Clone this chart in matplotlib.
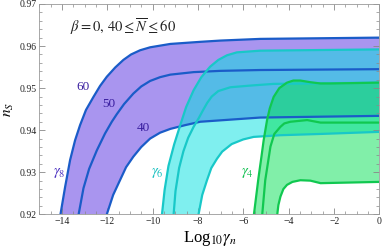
import numpy as np
import matplotlib
matplotlib.use("Agg")
import matplotlib.pyplot as plt

plt.rcParams['mathtext.fontset'] = 'stix'
plt.rcParams['font.family'] = ['Liberation Serif', 'DejaVu Serif']

# gamma_8 curves (N = 60, 50, 40)
g8_n60_x = [-14.09, -13.87, -13.65, -13.43, -13.21, -12.95, -12.62, -12.33, -12.03, -11.66, -11.30,
            -10.96, -10.56, -10.12, -9.23, -7.91, -7.02, -5.26, 0.0]
g8_n60_y = [0.9195, 0.9265, 0.9329, 0.9376, 0.9412, 0.9448, 0.9479, 0.9505, 0.9527, 0.9549, 0.9567,
            0.9580, 0.9590, 0.9597, 0.9605, 0.9610, 0.9613, 0.9617, 0.9620]
g8_n50_x = [-13.29, -13.06, -12.81, -12.47, -12.11, -11.81, -11.59, -11.27, -10.86, -10.51, -10.12,
            -9.68, -9.23, -8.20, -7.02, -5.26, 0.0]
g8_n50_y = [0.9195, 0.9262, 0.9308, 0.9352, 0.9392, 0.9420, 0.9438, 0.9462, 0.9487, 0.9504, 0.9517,
            0.9526, 0.9532, 0.9538, 0.9541, 0.9543, 0.9545]
g8_n40_x = [-12.06, -11.75, -11.44, -11.18, -10.86, -10.51, -10.12, -9.68, -9.23, -8.57, -7.91, -5.26, 0.0]
g8_n40_y = [0.9195, 0.9246, 0.9282, 0.9312, 0.9337, 0.9360, 0.9380, 0.9394, 0.9403, 0.9412, 0.9420, 0.9430, 0.9434]

# gamma_6 curves
g6_n60_x = [-9.60, -9.48, -9.31, -9.06, -8.79, -8.53, -8.20, -7.86, -7.47, -7.11, -6.73, -6.29, -5.26, 0.0]
g6_n60_y = [0.9198, 0.9258, 0.9315, 0.9366, 0.9412, 0.9455, 0.9495, 0.9526, 0.9551, 0.9567, 0.9578, 0.9585,
            0.9589, 0.9592]
g6_n50_x = [-9.09, -9.00, -8.84, -8.65, -8.44, -8.20, -7.98, -7.78, -7.60, -7.40, -7.11, -6.58, -5.70, -4.68, 0.0]
g6_n50_y = [0.9195, 0.9255, 0.9310, 0.9350, 0.9382, 0.9408, 0.9428, 0.9448, 0.9465, 0.9480, 0.9493, 0.9502,
            0.9506, 0.9510, 0.9513]
g6_n40_x = [-8.00, -7.82, -7.61, -7.42, -7.17, -6.94, -6.52, -6.01, -5.55, -4.37, -2.60, 0.0]
g6_n40_y = [0.9195, 0.9246, 0.9281, 0.9310, 0.9332, 0.9349, 0.9367, 0.9378, 0.9384, 0.9388, 0.9391, 0.9396]

# gamma_4 curves
g4_n60_x = [-5.55, -5.34, -5.21, -5.11, -4.96, -4.84, -4.67, -4.42, -4.08, -3.80, -3.49, -3.05, -2.60,
            -2.16, 0.0]
g4_n60_y = [0.9195, 0.9286, 0.9336, 0.9376, 0.9424, 0.9452, 0.9479, 0.9500, 0.9513, 0.9518, 0.9518, 0.9514,
            0.9511, 0.9511, 0.9513]
g4_n50_x = [-5.18, -5.04, -4.81, -4.64, -4.37, -4.20, -3.93, -3.19, -2.60, 0.0]
g4_n50_y = [0.9195, 0.9281, 0.9361, 0.9391, 0.9408, 0.9416, 0.9420, 0.9424, 0.9418, 0.9418]
g4_n40_x = [-4.52, -4.46, -4.37, -4.24, -4.08, -3.84, -3.49, -3.05, -2.60, 0.0]
g4_n40_y = [0.9195, 0.9222, 0.9242, 0.9260, 0.9270, 0.9277, 0.9281, 0.9280, 0.9274, 0.9277]

fig = plt.figure(figsize=(3.82, 2.49), dpi=100)
ax = fig.add_axes([0.1034, 0.1394, 0.89, 0.8446])

bands = [
    (g8_n60_x, g8_n60_y, g8_n50_x, g8_n50_y, g8_n40_x, g8_n40_y, '#552de1', '#1a5cc8'),
    (g6_n60_x, g6_n60_y, g6_n50_x, g6_n50_y, g6_n40_x, g6_n40_y, '#00e1e1', '#18c8c8'),
    (g4_n60_x, g4_n60_y, g4_n50_x, g4_n50_y, g4_n40_x, g4_n40_y, '#05e155', '#10c850'),
]

for hx, hy, mx, my, lx, ly, fc, lc in bands:
    px = [hx[0]] + hx + lx[::-1] + [lx[0]]
    py = [0.91] + hy + ly[::-1] + [0.91]
    ax.fill(px, py, color=fc, alpha=0.5, lw=0)

for hx, hy, mx, my, lx, ly, fc, lc in bands:
    ax.plot(hx, hy, color=lc, lw=1.6, solid_joinstyle='round')
    ax.plot(mx, my, color=lc, lw=1.6, solid_joinstyle='round')
    ax.plot(lx, ly, color=lc, lw=1.6, solid_joinstyle='round')

ax.text(-11.29, 0.9647, r'$\beta = 0,\, 40 \leq \overline{N} \leq 60$', fontsize=10.5,
        ha='center', va='center', color='#222222')
ax.text(-13.08, 0.9502, '60', fontsize=9.5, color='#3a1fa0', ha='center', va='center')
ax.text(-11.93, 0.9462, '50', fontsize=9.5, color='#3a1fa0', ha='center', va='center')
ax.text(-10.43, 0.9405, '40', fontsize=9.5, color='#3a1fa0', ha='center', va='center')
ax.text(-14.14, 0.9298, r'$\gamma_8$', fontsize=10.5, color='#4a2fc0', ha='center', va='center')
ax.text(-9.81, 0.9298, r'$\gamma_6$', fontsize=10.5, color='#18c0c0', ha='center', va='center')
ax.text(-5.84, 0.9298, r'$\gamma_4$', fontsize=10.5, color='#10c050', ha='center', va='center')

ax.set_xlim(-15, 0)
ax.set_ylim(0.92, 0.97)
ax.set_xticks(np.arange(-14, 1, 2))
ax.set_xticklabels(['\u2212%d' % abs(v) if v else '0' for v in range(-14, 1, 2)])
ax.set_yticks([0.92, 0.93, 0.94, 0.95, 0.96, 0.97])
ax.set_yticklabels(['0.92', '0.93', '0.94', '0.95', '0.96', '0.97'])
ax.set_xticks(np.arange(-15, 0.01, 0.5), minor=True)
ax.set_yticks(np.arange(0.92, 0.9701, 0.002), minor=True)
ax.tick_params(which='both', direction='in', top=True, right=True, colors='#888888',
               labelcolor='#222222', labelsize=7, pad=2)
ax.tick_params(which='major', length=4, width=0.6)
ax.tick_params(which='minor', length=2, width=0.5)
for s in ax.spines.values():
    s.set_color('#999999')
    s.set_linewidth(0.6)

ax.set_xlabel(r'Log$_{10}\gamma_n$', fontsize=12, labelpad=2)
ax.set_ylabel(r'$n_S$', fontsize=11)
ax.yaxis.set_label_coords(-0.068, 0.5)

fig.savefig('out.png', dpi=100)
